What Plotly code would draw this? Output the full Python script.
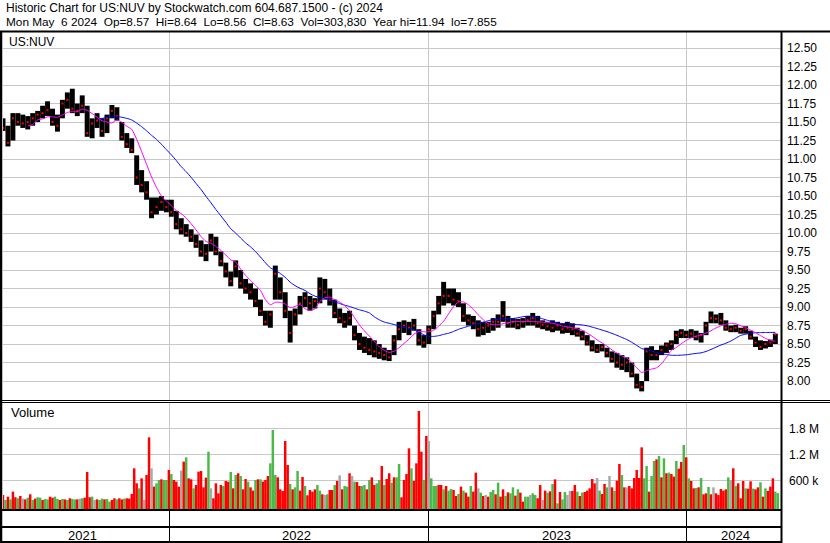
import pandas as pd
import plotly.graph_objects as go

W, H = 830, 543

first_week = "2021-05-10"
x_range = ["2021-05-10", "2024-05-14"]

# weekly high / low / close
high = [11.55, 11.45, 11.62, 11.62, 11.60, 11.58, 11.62, 11.65, 11.72, 11.78,
        11.68, 11.60, 11.80, 11.90, 11.95, 11.75, 11.86, 11.72, 11.55, 11.62,
        11.55, 11.60, 11.73, 11.70, 11.50, 11.35, 11.28, 11.05, 10.85, 10.70,
        10.48, 10.48, 10.50, 10.45, 10.45, 10.30, 10.20, 10.12, 10.05, 9.98,
        9.90, 9.85, 9.99, 9.95, 9.75, 9.60, 9.48, 9.63, 9.50, 9.38,
        9.32, 9.25, 9.10, 8.95, 8.95, 9.56, 9.40, 9.20, 8.95, 8.98,
        9.15, 9.20, 9.15, 9.12, 9.40, 9.38, 9.25, 9.10, 8.98, 8.92,
        8.95, 8.75, 8.65, 8.60, 8.58, 8.55, 8.50, 8.45, 8.42, 8.62,
        8.80, 8.82, 8.80, 8.84, 8.70, 8.62, 8.75, 8.95, 9.15, 9.34,
        9.25, 9.25, 9.20, 9.05, 8.90, 8.88, 8.82, 8.80, 8.80, 8.85,
        8.90, 9.08, 8.88, 8.85, 8.84, 8.85, 8.88, 8.92, 8.88, 8.82,
        8.80, 8.82, 8.80, 8.78, 8.80, 8.78, 8.72, 8.68, 8.62, 8.55,
        8.50, 8.50, 8.45, 8.40, 8.38, 8.35, 8.32, 8.25, 8.10, 8.00,
        8.45, 8.47, 8.42, 8.48, 8.52, 8.55, 8.68, 8.70, 8.68, 8.70,
        8.68, 8.65, 8.80, 8.94, 8.90, 8.92, 8.82, 8.75, 8.76, 8.72,
        8.74, 8.68, 8.60, 8.55, 8.54, 8.56, 8.64]
low = [11.38, 11.17, 11.25, 11.45, 11.42, 11.40, 11.45, 11.50, 11.55, 11.58,
       11.45, 11.37, 11.55, 11.68, 11.62, 11.58, 11.62, 11.30, 11.28, 11.42,
       11.30, 11.35, 11.55, 11.52, 11.25, 11.15, 11.08, 10.65, 10.55, 10.45,
       10.20, 10.25, 10.30, 10.28, 10.22, 10.05, 9.98, 9.95, 9.88, 9.80,
       9.68, 9.62, 9.75, 9.70, 9.55, 9.40, 9.28, 9.40, 9.25, 9.18,
       9.10, 9.00, 8.88, 8.75, 8.72, 9.10, 9.10, 8.85, 8.52, 8.75,
       8.90, 9.00, 8.95, 8.98, 9.05, 9.10, 9.02, 8.85, 8.78, 8.72,
       8.75, 8.55, 8.42, 8.38, 8.35, 8.32, 8.30, 8.28, 8.27, 8.35,
       8.55, 8.65, 8.62, 8.68, 8.48, 8.45, 8.50, 8.70, 8.90, 9.02,
       9.05, 9.02, 9.00, 8.80, 8.75, 8.70, 8.60, 8.62, 8.65, 8.68,
       8.72, 8.80, 8.72, 8.72, 8.70, 8.72, 8.75, 8.75, 8.72, 8.70,
       8.68, 8.66, 8.68, 8.64, 8.65, 8.62, 8.60, 8.55, 8.48, 8.40,
       8.38, 8.40, 8.32, 8.25, 8.18, 8.15, 8.12, 8.05, 7.90, 7.86,
       8.00, 8.28, 8.28, 8.35, 8.38, 8.42, 8.50, 8.58, 8.58, 8.58,
       8.55, 8.52, 8.62, 8.78, 8.78, 8.76, 8.68, 8.66, 8.66, 8.64,
       8.64, 8.56, 8.46, 8.42, 8.44, 8.46, 8.50]
close = [11.42, 11.22, 11.55, 11.50, 11.48, 11.50, 11.55, 11.60, 11.62, 11.66,
         11.50, 11.45, 11.75, 11.80, 11.68, 11.65, 11.72, 11.35, 11.48, 11.52,
         11.38, 11.55, 11.65, 11.58, 11.30, 11.20, 11.12, 10.75, 10.65, 10.55,
         10.28, 10.35, 10.42, 10.35, 10.28, 10.12, 10.05, 10.00, 9.95, 9.85,
         9.75, 9.72, 9.90, 9.75, 9.62, 9.48, 9.35, 9.55, 9.32, 9.25,
         9.20, 9.08, 8.95, 8.80, 8.90, 9.45, 9.20, 8.95, 8.65, 8.90,
         9.05, 9.12, 9.05, 9.08, 9.25, 9.20, 9.10, 8.92, 8.85, 8.80,
         8.85, 8.62, 8.50, 8.45, 8.42, 8.40, 8.38, 8.35, 8.32, 8.55,
         8.70, 8.75, 8.72, 8.75, 8.55, 8.52, 8.70, 8.88, 9.05, 9.15,
         9.15, 9.10, 9.08, 8.88, 8.82, 8.78, 8.70, 8.72, 8.75, 8.80,
         8.80, 8.88, 8.78, 8.80, 8.76, 8.80, 8.82, 8.85, 8.78, 8.76,
         8.74, 8.72, 8.75, 8.70, 8.72, 8.70, 8.64, 8.60, 8.52, 8.45,
         8.42, 8.46, 8.38, 8.30, 8.25, 8.22, 8.25, 8.10, 7.95, 7.92,
         8.40, 8.35, 8.35, 8.42, 8.48, 8.50, 8.62, 8.65, 8.62, 8.64,
         8.60, 8.62, 8.75, 8.85, 8.84, 8.82, 8.72, 8.70, 8.72, 8.68,
         8.70, 8.60, 8.52, 8.46, 8.50, 8.52, 8.63]

# volume in thousands, two readings per week
vol_k = [262, 146, 223, 160, 339, 210, 185, 240, 178, 160,
         200, 277, 146, 178, 210, 200, 146, 170, 160, 223,
         200, 223, 170, 146, 170, 160, 146, 185, 170, 160,
         160, 178, 185, 200, 792, 210, 223, 146, 160, 146,
         178, 160, 170, 108, 146, 185, 160, 185, 160, 178,
         185, 178, 285, 877, 531, 415, 646, 146, 723, 1592,
         877, 454, 531, 608, 623, 608, 608, 838, 746, 608,
         569, 454, 823, 1031, 1130, 646, 623, 415, 492, 800,
         815, 438, 662, 1261, 415, 185, 531, 300, 492, 469,
         585, 569, 792, 415, 723, 762, 700, 392, 631, 569,
         438, 362, 608, 623, 623, 569, 608, 700, 992, 1761,
         723, 669, 392, 354, 1507, 954, 515, 392, 438, 815,
         362, 677, 469, 254, 377, 339, 392, 492, 362, 277,
         262, 277, 377, 377, 492, 585, 715, 392, 469, 454,
         762, 700, 569, 562, 469, 469, 492, 392, 608, 669,
         492, 531, 608, 931, 492, 631, 762, 546, 669, 669,
         977, 208, 608, 746, 1338, 877, 585, 992, 2200, 1261,
         608, 1623, 1507, 646, 469, 469, 492, 492, 392, 469,
         362, 400, 377, 239, 285, 454, 362, 315, 223, 469,
         339, 777, 415, 315, 239, 262, 223, 331, 377, 277,
         546, 223, 392, 239, 323, 300, 438, 246, 392, 315,
         108, 223, 223, 262, 300, 262, 185, 492, 146, 362,
         315, 346, 515, 623, 69, 331, 160, 331, 262, 354,
         354, 492, 339, 239, 315, 331, 362, 415, 631, 531,
         654, 362, 285, 515, 438, 700, 438, 354, 592, 977,
         723, 438, 438, 469, 415, 654, 838, 654, 1361, 646,
         931, 339, 700, 1046, 1084, 1161, 669, 1107, 762, 777,
         746, 685, 1046, 869, 1023, 1415, 1130, 646, 585, 415,
         423, 438, 654, 277, 300, 446, 277, 438, 300, 262,
         400, 362, 392, 669, 608, 877, 469, 531, 185, 585,
         415, 408, 577, 408, 392, 438, 554, 223, 415, 354,
         454, 646, 339, 304]
# r = down day, g = up day, n = unchanged
vol_dir = ("rgrgrrgrnr" "grgrggrggr" "rggrgrgrgg" "rngrrrgnrg" "grggrrgrrg"
           "rrrrrgrnrr" "nrggrggrgr" "rrnrgrrgrr" "rrrgnrrrrg" "rrgrgrgrrg"
           "rrgrgrrrgg" "grrrrrgrgg" "rrgrrrrggr" "ngrrgrnrgg" "rngrrggrgr"
           "rggrgrrgrg" "grrrrgrrrr" "grngggrrgr" "ggrrgrgrrg" "rrngrnrggr"
           "grrgrggrgr" "rggnggrrnr" "grgrgrggnn" "rrgrgrrrrr" "ngrrgnrgrr"
           "grnrrrrrrg" "grggrgrgrg" "rrgrrgrgrr" "grgrrgrnrr" "rrrgnrgrrr"
           "grrgrrgrgr" "rrgg")

fast_weeks = 6
slow_weeks = 20

price_tickvals = [8.00, 8.25, 8.50, 8.75, 9.00, 9.25, 9.50, 9.75, 10.00, 10.25,
                  10.50, 10.75, 11.00, 11.25, 11.50, 11.75, 12.00, 12.25, 12.50]
vol_tickvals = [600, 1200, 1800]
vol_ticktext = ["600 k", "1.2 M", "1.8 M"]
year_labels = ["2021", "2022", "2023", "2024"]
year_label_dates = ["2021-08-31", "2022-06-29", "2023-07-01", "2024-03-10"]

header = ["Historic Chart for US:NUV by Stockwatch.com 604.687.1500 - (c) 2024",
          "Mon May\u00a0 6 2024\u00a0 Op=8.57\u00a0 Hi=8.64\u00a0 Lo=8.56\u00a0 Cl=8.63\u00a0 "
          "Vol=303,830\u00a0 Year hi=11.94\u00a0 lo=7.855"]

GRID = "#c8c8c8"
FONT = "Liberation Sans, Arial, sans-serif"
DAY_MS = 86400000
vol_floor = -85
vol_top = 2407
vol_colors = {"r": "#ff0000", "g": "#4cb848", "n": "#a8a8a8"}


def px_x(p):
    return p / W


def px_y(p):
    return 1 - p / H


weeks = pd.date_range(first_week, periods=len(close), freq="7D")
vol_dates = pd.Timestamp(first_week) + pd.to_timedelta([3.5 * j for j in range(len(vol_k))], unit="D")
closes = pd.Series(close)
ma_fast = closes.rolling(fast_weeks).mean()
ma_slow = closes.rolling(slow_weeks).mean()

fig = go.Figure()
fig.add_trace(go.Bar(x=weeks, base=low, y=[h - l for h, l in zip(high, low)],
                     width=7 * DAY_MS, marker=dict(color="black", line_width=0),
                     xaxis="x", yaxis="y", hoverinfo="skip"))
fig.add_trace(go.Scatter(x=weeks, y=close, mode="markers",
                         marker=dict(symbol="square", size=2, color="#ff0000", line_width=0),
                         xaxis="x", yaxis="y"))
fig.add_trace(go.Scatter(x=weeks, y=ma_slow, mode="lines",
                         line=dict(color="#0000ff", width=1, shape="spline", smoothing=0.6),
                         xaxis="x", yaxis="y"))
fig.add_trace(go.Scatter(x=weeks, y=ma_fast, mode="lines",
                         line=dict(color="#ff00ff", width=1, shape="spline", smoothing=0.6),
                         xaxis="x", yaxis="y"))
fig.add_trace(go.Bar(x=vol_dates, base=vol_floor, y=[v - vol_floor for v in vol_k],
                     width=3.5 * DAY_MS,
                     marker=dict(color=[vol_colors[c] for c in vol_dir], line_width=0),
                     xaxis="x2", yaxis="y2"))

x_common = dict(type="date", range=x_range, domain=[px_x(3), px_x(781)],
                showticklabels=False, ticks="", zeroline=False, showline=False,
                dtick="M12", tick0="2022-01-01", showgrid=True, gridcolor=GRID, gridwidth=1)

fig.update_layout(
    width=W, height=H, margin=dict(l=0, r=0, t=0, b=0),
    paper_bgcolor="white", plot_bgcolor="white", showlegend=False,
    font=dict(family=FONT, size=12, color="black"),
    xaxis=dict(x_common, anchor="y"),
    xaxis2=dict(x_common, anchor="y2", matches="x"),
    xaxis3=dict(x_common, anchor="y3", matches="x", gridcolor="black"),
    yaxis=dict(domain=[px_y(401), px_y(31)], range=[7.73, 12.73], anchor="x", side="right",
               tickvals=price_tickvals, tickformat=".2f", ticks="", ticklabelstandoff=5,
               showgrid=True, gridcolor=GRID, zeroline=False, showline=False,
               tickfont=dict(size=12)),
    yaxis2=dict(domain=[px_y(510), px_y(402)], range=[vol_floor, vol_top], anchor="x2",
                side="right", tickvals=vol_tickvals, ticktext=vol_ticktext, ticks="",
                ticklabelstandoff=7, showgrid=True, gridcolor=GRID, zeroline=False,
                showline=False, tickfont=dict(size=12)),
    yaxis3=dict(domain=[0, px_y(510)], range=[0, 1], anchor="x3", visible=False),
)

annotations = [
    dict(x=px_x(4), y=px_y(8), text=header[0]),
    dict(x=px_x(4), y=px_y(22), text=header[1], font=dict(size=11.8)),
    dict(x=px_x(7), y=px_y(42), text="US:NUV"),
    dict(x=px_x(9), y=px_y(413), text="Volume", font=dict(size=13)),
]
for a in annotations:
    a.update(xref="paper", yref="paper", xanchor="left", yanchor="middle", showarrow=False)
for label, d in zip(year_labels, year_label_dates):
    annotations.append(dict(x=d, y=px_y(535), xref="x3", yref="paper", text=label,
                            showarrow=False, xanchor="center", yanchor="middle",
                            font=dict(size=13)))
fig.update_layout(annotations=annotations)

frame = [
    (0, 31.5, W, 31.5, 2),
    (1, 31, 1, H, 2.5),
    (0, 400.5, W, 400.5, 1),
    (0, 402.5, W, 402.5, 1),
    (781.5, 31, 781.5, H, 2),
    (0, 510, 782, 510, 2),
    (0, 527, 782, 527, 2),
    (0, 542, 782, 542, 2),
]
fig.update_layout(shapes=[
    dict(type="line", xref="paper", yref="paper", x0=px_x(a), y0=px_y(b), x1=px_x(c), y1=px_y(d),
         line=dict(color="black", width=w), layer="above")
    for a, b, c, d, w in frame
])

# the page is photographed from its top-left corner, so drop the default body margin
fig.write_html("out.html", config={"displayModeBar": False},
               post_script="document.body.style.margin='0px';")
